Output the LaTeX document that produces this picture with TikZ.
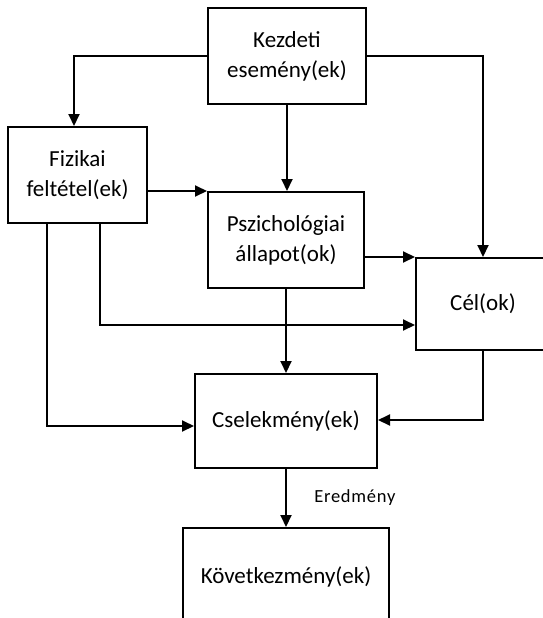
\documentclass[tikz,border=0pt]{standalone}
\usepackage{fontspec}
\setmainfont{Carlito}
\newfontfamily\labelfont[LetterSpace=4]{Carlito}
\usetikzlibrary{arrows.meta}
\begin{document}
\begin{tikzpicture}[x=1pt,y=-1pt,
  box/.style={draw,line width=2pt,rectangle,inner sep=0pt,align=center,
    font=\fontsize{23}{30}\selectfont},
  link/.style={line width=2pt,-{Triangle[length=12pt,width=11pt]}}]
\useasboundingbox (0,0) rectangle (543,618);
\clip (0,0) rectangle (543,618);
\fill[white] (0,0) rectangle (543,618);

% boxes
\node[box,minimum width=158pt,minimum height=96pt] (kez) at (287,56) {Kezdeti\\esemény(ek)};
\node[box,minimum width=139pt,minimum height=96pt] (fiz) at (77.5,175) {Fizikai\\feltétel(ek)};
\node[box,minimum width=156pt,minimum height=96pt] (psz) at (286,240) {Pszichológiai\\állapot(ok)};
\node[box,minimum width=134pt,minimum height=92pt] (cel) at (483,304) {Cél(ok)};
\node[box,minimum width=182pt,minimum height=94pt] (csel) at (286,421) {Cselekmény(ek)};
\node[box,minimum width=206pt,minimum height=98pt] (kov) at (286,577) {Következmény(ek)};

% connectors
\draw[link] (kez.west) -| ([xshift=-3.5pt]fiz.north);
\draw[link] (kez.east) -| (cel.north);
\draw[link] (kez.south) -- (kez.south |- psz.north);
\draw[link] (fiz.east |- psz.north west) -- (psz.north west);
\draw[link] (psz.east |- cel.north west) -- (cel.north west);
\draw[link] ([xshift=22.5pt]fiz.south) |- ([yshift=-21pt]cel.west);
\draw[link] ([xshift=-30.5pt]fiz.south) |- ([yshift=-5pt]csel.west);
\draw[link] (psz.south) -- (psz.south |- csel.north);
\draw[link] (cel.south) |- ([yshift=1pt]csel.east);
\draw[link] (csel.south) -- node[right=24pt,font=\labelfont\fontsize{18.5}{20}\selectfont] (ered) {Eredmény} (kov.north);
\end{tikzpicture}
\end{document}
